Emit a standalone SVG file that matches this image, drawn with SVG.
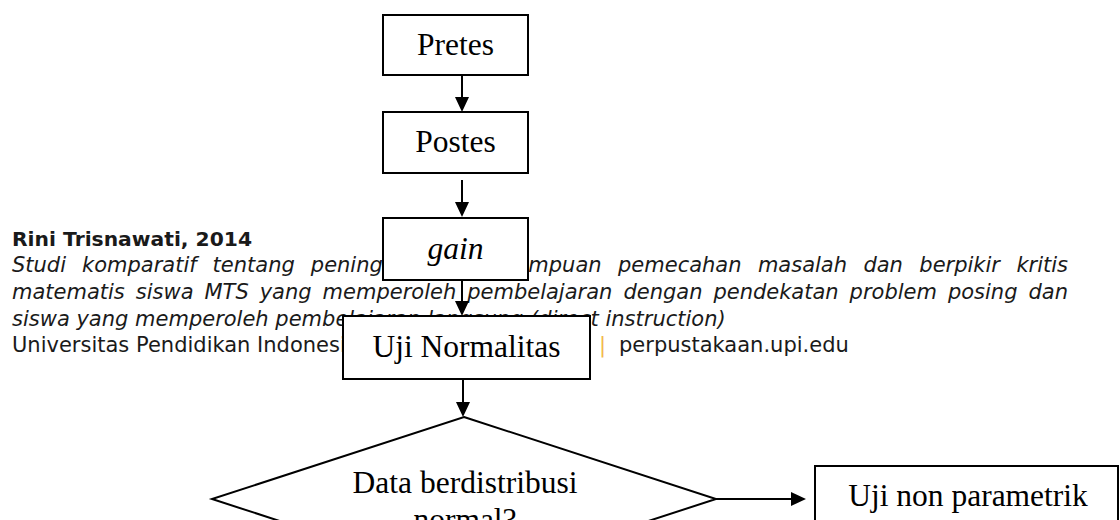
<svg xmlns="http://www.w3.org/2000/svg" width="1120" height="520" viewBox="0 0 1120 520">
<defs>
<marker id="ah" markerUnits="userSpaceOnUse" markerWidth="16" markerHeight="16" refX="12" refY="7" orient="auto"><path d="M0,0 L15,7 L0,14 Z" fill="#000"/></marker>
<style>
.ft{font-family:"DejaVu Sans",Verdana,sans-serif;font-size:21px;fill:#1a1a1a}
.it{font-style:italic}
.bd{font-weight:bold;font-size:20.3px}
.node rect,.node polygon{fill:#fff;stroke:#000;stroke-width:2}
.lbl{font-family:"Liberation Serif","Times New Roman",serif;font-size:31.5px;fill:#000;text-anchor:middle}
.conn line{stroke:#000;stroke-width:2;marker-end:url(#ah)}
.pipe{fill:#f2b84b}
</style>
</defs>
<rect width="1120" height="520" fill="#fff"/>
<g id="footer" class="ft">
<text x="12" y="246" class="bd">Rini Trisnawati, 2014</text>
<text y="272" class="it"><tspan x="12">Studi</tspan><tspan x="82">komparatif</tspan><tspan x="212.6">tentang</tspan><tspan x="310.8">peningkatan</tspan><tspan x="469.9">kemampuan</tspan><tspan x="618">pemecahan</tspan><tspan x="757.9">masalah</tspan><tspan x="863.4">dan</tspan><tspan x="919.3">berpikir</tspan><tspan x="1016.4">kritis</tspan></text>
<text y="298.5" class="it"><tspan x="12">matematis</tspan><tspan x="135.8">siswa</tspan><tspan x="204.5">MTS</tspan><tspan x="259.7">yang</tspan><tspan x="322.6">memperoleh</tspan><tspan x="467.2">pembelajaran</tspan><tspan x="623.4">dengan</tspan><tspan x="713.4">pendekatan</tspan><tspan x="849.6">problem</tspan><tspan x="947.9">posing</tspan><tspan x="1028.5">dan</tspan></text>
<text x="12" y="325.5" class="it">siswa yang memperoleh pembelajaran langsung (direct instruction)</text>
<text y="351.5"><tspan x="12">Universitas Pendidikan Indonesia</tspan><tspan x="366" class="pipe">|</tspan><tspan x="386">repository.upi.edu</tspan><tspan x="599" class="pipe">|</tspan><tspan x="619">perpustakaan.upi.edu</tspan></text>
</g>
<g id="connectors" class="conn">
<line x1="462" y1="75" x2="462" y2="109"/>
<line x1="462" y1="180" x2="462" y2="214"/>
<line x1="462" y1="280" x2="462" y2="313"/>
<line x1="463" y1="379" x2="463" y2="414"/>
<line x1="716" y1="499" x2="803" y2="499"/>
</g>
<g id="pretes" class="node">
<rect x="383" y="15" width="145" height="60"/>
<text class="lbl" x="455.5" y="55">Pretes</text>
</g>
<g id="postes" class="node">
<rect x="383" y="112" width="145" height="61"/>
<text class="lbl" x="455.5" y="152">Postes</text>
</g>
<g id="gain" class="node">
<rect x="383" y="218" width="145" height="62"/>
<text class="lbl" x="455.5" y="259" font-style="italic">gain</text>
</g>
<g id="uji-normalitas" class="node">
<rect x="343" y="316" width="247" height="63"/>
<text class="lbl" x="466.5" y="357">Uji Normalitas</text>
</g>
<g id="decision" class="node">
<polygon points="464,417 716,499 464,581 212,499"/>
<text class="lbl" x="465" y="493">Data berdistribusi</text>
<text class="lbl" x="465" y="530">normal?</text>
</g>
<g id="uji-non-parametrik" class="node">
<rect x="815" y="466" width="303" height="80"/>
<text class="lbl" x="968" y="506">Uji non parametrik</text>
</g>
</svg>
